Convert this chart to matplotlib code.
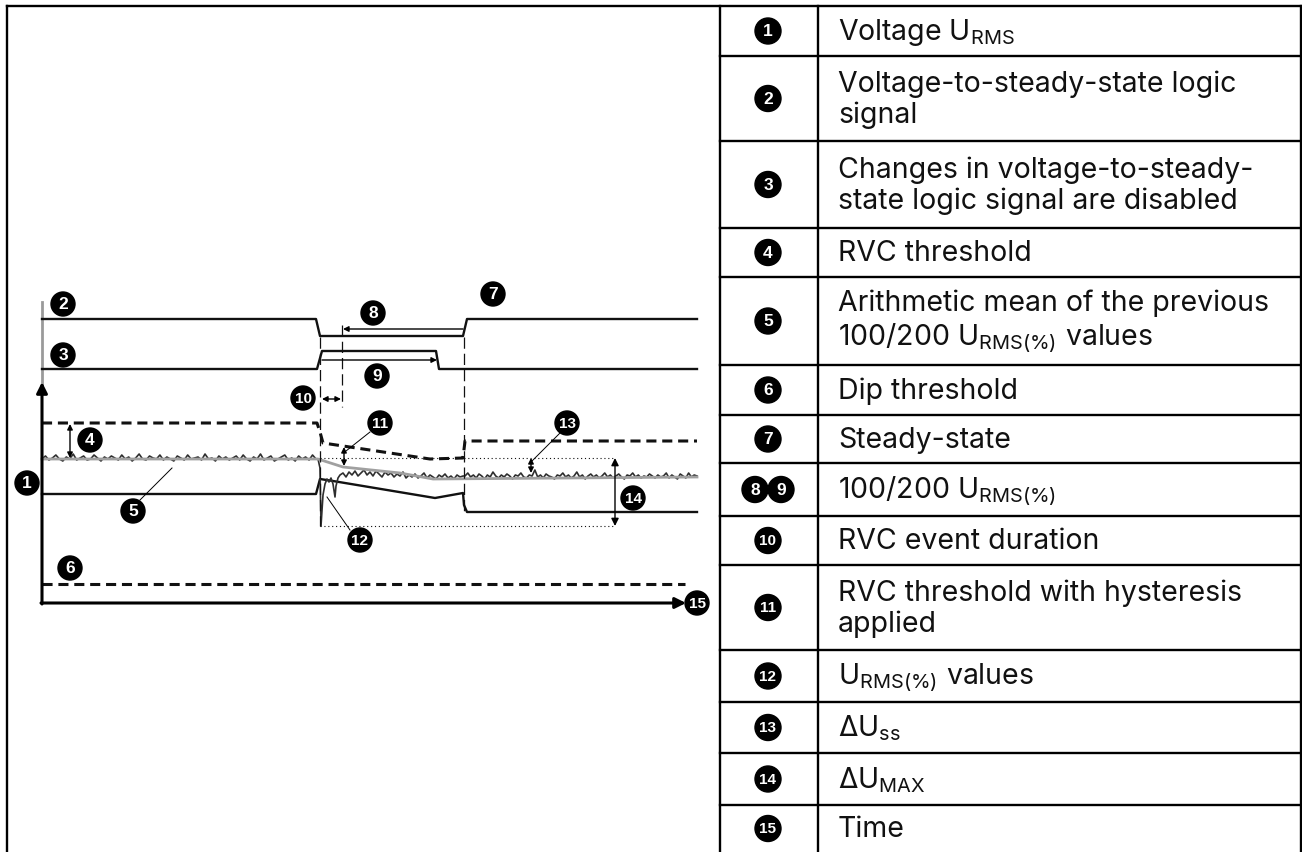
import numpy as np
import matplotlib.pyplot as plt
from matplotlib.patches import Circle

plt.rcParams['font.family'] = ['Inter', 'DejaVu Sans']
plt.rcParams['mathtext.fontset'] = 'custom'
plt.rcParams['mathtext.rm'] = 'Inter'
plt.rcParams['mathtext.it'] = 'Inter:italic'
plt.rcParams['mathtext.bf'] = 'Inter:bold'

# ---- legend table content ----
keys = ["1", "2", "3", "4", "5", "6", "7", "89", "10", "11", "12", "13", "14", "15"]
descriptions = [
    r"Voltage U$_{\mathrm{RMS}}$",
    "Voltage-to-steady-state logic\nsignal",
    "Changes in voltage-to-steady-\nstate logic signal are disabled",
    "RVC threshold",
    "Arithmetic mean of the previous\n" + r"100/200 U$_{\mathrm{RMS(\%)}}$ values",
    "Dip threshold",
    "Steady-state",
    r"100/200 U$_{\mathrm{RMS(\%)}}$",
    "RVC event duration",
    "RVC threshold with hysteresis\napplied",
    r"U$_{\mathrm{RMS(\%)}}$ values",
    r"ΔU$_{\mathrm{ss}}$",
    r"ΔU$_{\mathrm{MAX}}$",
    "Time",
]
row_edges = [6, 56, 141, 228, 277, 365, 415, 463, 516, 565, 650, 702, 753, 805, 852]

# ---- diagram signals (time, level) ----
steady_t = [42, 316, 320, 463, 467, 697]
steady_v = [319, 319, 336, 336, 319, 319]
disable_t = [42, 317, 322, 436, 439, 697]
disable_v = [369, 369, 351, 351, 369, 369]

rvc_t = [42, 317, 320, 323, 430, 463, 465, 697]
rvc_v = [423, 423, 432, 443, 459, 458, 441, 441]
lower_t = [42, 316, 320, 333, 435, 463, 464, 467, 697]
lower_v = [494, 494, 479, 481, 498, 493, 505, 512, 512]
mean_t = [42, 318, 343, 400, 433, 697]
mean_v = [459, 459, 467, 473, 479, 477]
dip_t = [42, 685]
dip_v = [584, 584]

pre_u = [459, 456, 460, 458, 455, 459, 461, 457, 459, 454, 460, 458, 456, 460,
         459, 455, 458, 461, 457, 459, 456, 458, 460, 455, 459, 457, 461, 458,
         454, 459, 460, 456, 458, 459, 455, 460, 457, 459, 461, 456, 458, 460,
         455, 459, 458, 457, 460, 454, 459, 458, 461, 456, 459, 457, 460, 458,
         456, 460, 455, 459, 461, 457, 459, 454, 460, 458, 456, 461, 459, 457,
         455, 460, 458, 461, 456, 459, 457, 460, 455, 459]
event_t = [318, 320, 321, 322, 323, 325, 327, 329, 331, 333, 335, 336, 338, 340,
           343, 346, 349, 352, 355, 358, 361, 364, 367, 370, 373, 376, 379, 382,
           385, 388, 391, 394, 397, 400, 403, 406, 409, 412, 415, 418, 421, 424,
           427, 430, 433, 436, 439, 442, 445, 448, 451, 454, 457, 460, 463]
event_u = [459, 468, 526, 510, 495, 484, 479, 482, 478, 484, 497, 486, 478, 475,
           473, 477, 472, 475, 471, 476, 473, 470, 475, 472, 476, 471, 474, 477,
           472, 475, 473, 477, 474, 476, 472, 478, 475, 477, 474, 478, 476, 473,
           478, 475, 477, 479, 475, 477, 474, 478, 476, 479, 475, 477, 476]
post_u = [476, 473, 477, 475, 478, 474, 476, 479, 475, 477, 472, 476, 478, 475,
          477, 474, 476, 479, 475, 476, 473, 477, 478, 475, 476, 470, 477, 475,
          478, 474, 476, 477, 479, 475, 476, 473, 477, 475, 478, 476, 472, 477,
          475, 479, 476, 474, 477, 475, 478, 476, 473, 477, 475, 478, 476, 474,
          477, 479, 475, 476, 473, 477, 475, 478, 476, 477, 474, 476, 478, 475,
          477, 476, 473, 478, 475, 477, 479, 474, 476, 478, 473, 477, 475, 476]

fig = plt.figure(figsize=(13.02, 8.52), dpi=100)
ax = fig.add_axes([0, 0, 1, 1])
ax.set_xlim(0, 1302)
ax.set_ylim(852, 0)
ax.axis('off')

LW = 1.7

# outer frame and table grid
ax.plot([7, 7], [852, 6], color='black', lw=LW)
ax.plot([7, 1301], [6, 6], color='black', lw=LW)
for xv in [720, 818, 1301]:
    ax.plot([xv, xv], [6, 852], color='black', lw=LW)
for yv in row_edges[1:-1]:
    ax.plot([720, 1301], [yv, yv], color='black', lw=LW)


def badge(x, y, label, r=12.5, fs=12.5):
    ax.add_patch(Circle((x, y), r, color='black', zorder=5))
    size = fs if len(label) == 1 else fs - 1.5
    ax.text(x, y + 0.8, label, color='white', ha='center', va='center',
            fontsize=size, fontweight='bold', family='Liberation Sans', zorder=6)


for i, (k, d) in enumerate(zip(keys, descriptions)):
    yc = (row_edges[i] + row_edges[i + 1]) / 2
    if k == "89":
        badge(755, yc, "8", r=13)
        badge(781, yc, "9", r=13)
    else:
        badge(768, yc, k, r=13)
    ax.text(838, yc + 1, d, ha='left', va='center', fontsize=20.5,
            linespacing=1.15, color='#111111')

# ---- diagram ----
# axes
ax.plot([42, 42], [302, 386], color='#9a9a9a', lw=2)
ax.annotate('', xy=(42, 382), xytext=(42, 604),
            arrowprops=dict(arrowstyle='-|>', lw=2.2, color='black',
                            mutation_scale=16, shrinkA=0, shrinkB=0))
ax.annotate('', xy=(686, 603), xytext=(41, 603),
            arrowprops=dict(arrowstyle='-|>', lw=2.2, color='black',
                            mutation_scale=16, shrinkA=0, shrinkB=0))

ax.plot(steady_t, steady_v, color='#111111', lw=LW)
ax.plot(disable_t, disable_v, color='#111111', lw=LW)
ax.plot(rvc_t, rvc_v, color='#111111', lw=2.2, dashes=(3.3, 1.9))
ax.plot(dip_t, dip_v, color='#111111', lw=2.2, dashes=(3.3, 1.9))
ax.plot(lower_t, lower_v, color='#111111', lw=LW)

pre_t = np.linspace(42, 316, len(pre_u))
post_t = np.linspace(465, 697, len(post_u))
trace_t = np.concatenate([pre_t, event_t, post_t])
trace_u = np.concatenate([pre_u, event_u, post_u])
ax.plot(trace_t, trace_u, color='#2e2e2e', lw=1.2)
ax.plot(mean_t, mean_v, color='#a0a0a0', lw=2)

# vertical dashed markers
ax.plot([320, 320], [337, 526], color='#111111', lw=0.9, dashes=(9, 4))
ax.plot([342, 342], [325, 407], color='#111111', lw=0.9, dashes=(9, 4))
ax.plot([464, 464], [337, 515], color='#111111', lw=0.9, dashes=(9, 4))

# dotted bounds
ax.plot([320, 615], [458, 458], color='#111111', lw=0.8, dashes=(1, 2.5))
ax.plot([320, 615], [526, 526], color='#111111', lw=0.8, dashes=(1, 2.5))


def arrow(x0, y0, x1, y1, style='-|>', ms=8):
    ax.annotate('', xy=(x1, y1), xytext=(x0, y0),
                arrowprops=dict(arrowstyle=style, lw=1, color='black',
                                mutation_scale=ms, shrinkA=0, shrinkB=0))


arrow(463, 329, 343, 329)
arrow(322, 360, 437, 360)
arrow(322, 399, 341, 399, '<|-|>')
arrow(70, 424, 70, 458, '<|-|>')
arrow(344, 447, 344, 466, '<|-|>')
arrow(531, 458, 531, 473, '<|-|>')
arrow(615, 458, 615, 526, '<|-|>', ms=11)

# leader lines
for (xa, ya, xb, yb) in [(140, 500, 172, 468), (350, 530, 327, 497),
                         (370, 432, 346, 451), (560, 433, 532, 461)]:
    ax.plot([xa, xb], [ya, yb], color='black', lw=0.7)

for lab, bx, by in [("1", 27, 483), ("2", 63, 304), ("3", 63, 355),
                    ("4", 90, 440), ("5", 133, 511), ("6", 70, 568),
                    ("7", 493, 294), ("8", 373, 313), ("9", 377, 376),
                    ("10", 303, 398), ("11", 380, 423), ("12", 360, 540),
                    ("13", 567, 423), ("14", 633, 498), ("15", 697, 603)]:
    badge(bx, by, lab, r=12, fs=12.5)

fig.savefig('out.png', dpi=100)
